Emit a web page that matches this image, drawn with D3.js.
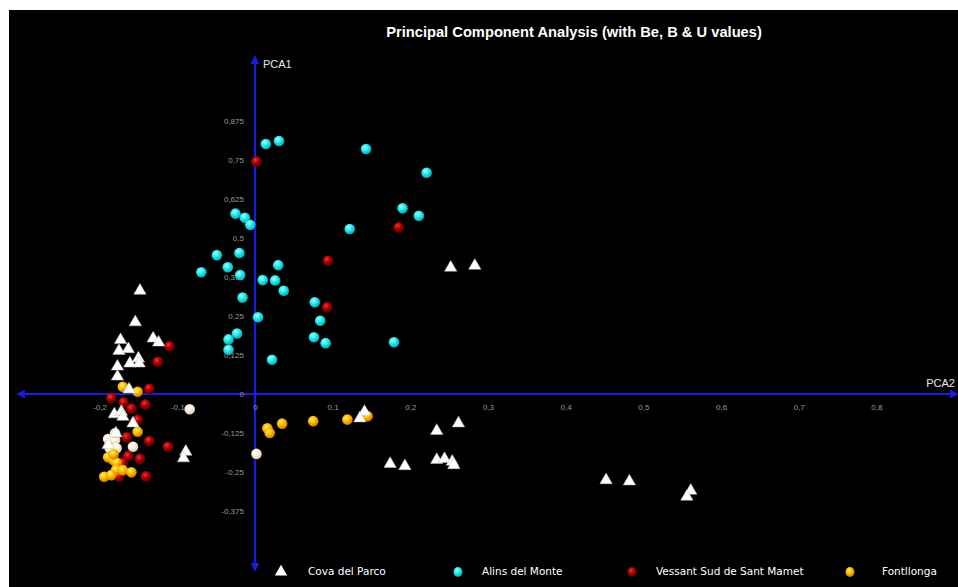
<!DOCTYPE html>
<html>
<head>
<meta charset="utf-8">
<script src="https://cdn.jsdelivr.net/npm/d3@7"></script>
<style>
  html, body { margin: 0; padding: 0; background: #ffffff; }
  svg { display: block; }
</style>
</head>
<body>
<svg id="chart" width="958" height="587"></svg>
<script>
// PCA scores: [PCA2, PCA1] per sample
const covaDelParco = [
  [-0.148, 0.331], [-0.154, 0.230], [-0.173, 0.173], [-0.131, 0.178], [-0.124, 0.165],
  [-0.175, 0.138], [-0.163, 0.144], [-0.150, 0.114], [-0.161, 0.098], [-0.149, 0.098],
  [-0.177, 0.088], [-0.177, 0.056], [-0.162, 0.015], [-0.181, -0.065], [-0.172, -0.057],
  [-0.170, -0.073], [-0.157, -0.094], [-0.179, -0.126], [-0.189, -0.163],
  [-0.089, -0.185], [-0.092, -0.206],
  [0.141, -0.057], [0.135, -0.078], [0.174, -0.224], [0.193, -0.231],
  [0.234, -0.118], [0.262, -0.094], [0.234, -0.211], [0.244, -0.208],
  [0.254, -0.217], [0.256, -0.228],
  [0.452, -0.276], [0.482, -0.280], [0.561, -0.310], [0.556, -0.329],
  [0.252, 0.405], [0.283, 0.411]
];
const alinsDelMonte = [
  [0.014, 0.801], [0.031, 0.811], [0.143, 0.785], [0.221, 0.709], [0.190, 0.595],
  [0.211, 0.571], [0.122, 0.529], [-0.025, 0.578], [-0.013, 0.565], [-0.006, 0.542],
  [-0.049, 0.445], [-0.020, 0.452], [-0.035, 0.406], [-0.069, 0.390], [0.030, 0.413],
  [-0.019, 0.381], [0.010, 0.365], [0.026, 0.364], [0.037, 0.331], [-0.016, 0.309],
  [0.077, 0.294], [0.084, 0.235], [0.004, 0.246], [-0.023, 0.194], [-0.034, 0.175],
  [-0.034, 0.142], [0.076, 0.182], [0.091, 0.163], [0.179, 0.166], [0.022, 0.110]
];
const vessantSudSantMamet = [
  [0.002, 0.745], [0.185, 0.534], [0.094, 0.427], [0.093, 0.278],
  [-0.110, 0.153], [-0.125, 0.103], [-0.136, 0.017], [-0.185, -0.013], [-0.169, -0.027],
  [-0.141, -0.034], [-0.159, -0.047], [-0.151, -0.083], [-0.165, -0.139], [-0.136, -0.151],
  [-0.112, -0.169], [-0.163, -0.199], [-0.148, -0.208], [-0.170, -0.220], [-0.175, -0.265],
  [-0.140, -0.264]
];
const fontllonga = [
  [-0.170, 0.023], [-0.151, 0.007], [-0.151, -0.121], [-0.189, -0.203], [-0.182, -0.212],
  [-0.178, -0.220], [-0.179, -0.244], [-0.170, -0.244], [-0.159, -0.251], [-0.194, -0.265],
  [-0.185, -0.260], [-0.182, -0.193],
  [0.016, -0.110], [0.019, -0.125], [0.035, -0.095], [0.075, -0.087], [0.119, -0.082],
  [0.145, -0.071]
];
const otherSamples = [
  [-0.084, -0.049], [0.002, -0.192],
  [-0.189, -0.144], [-0.180, -0.147], [-0.187, -0.174], [-0.178, -0.174],
  [-0.157, -0.169], [-0.180, -0.126]
];

const xTicks = [-0.2, -0.1, 0, 0.1, 0.2, 0.3, 0.4, 0.5, 0.6, 0.7, 0.8];
const yTicks = [-0.375, -0.25, -0.125, 0, 0.125, 0.25, 0.375, 0.5, 0.625, 0.75, 0.875];
const legendLabels = ["Cova del Parco", "Alins del Monte", "Vessant Sud de Sant Mamet", "Fontllonga"];

const title = "Principal Component Analysis (with Be, B & U values)";

const W = 958, H = 587;
const svg = d3.select("#chart");

const fmt = d3.formatLocale({ decimal: ",", thousands: ".", grouping: [3], currency: ["", ""], minus: "-" }).format("~g");

const x = d3.scaleLinear().domain([-0.305, 0.905]).range([18, 958]);
const y = d3.scaleLinear().domain([-0.564, 1.08]).range([570, 57]);

// sphere gradients
const defs = svg.append("defs");
function sphere(id, light, mid, dark) {
  const g = defs.append("radialGradient").attr("id", id)
    .attr("cx", "40%").attr("cy", "35%").attr("r", "65%");
  g.append("stop").attr("offset", "0%").attr("stop-color", light);
  g.append("stop").attr("offset", "45%").attr("stop-color", mid);
  g.append("stop").attr("offset", "100%").attr("stop-color", dark);
}
sphere("gCyan", "#c8ffff", "#22eef0", "#0aa8b0");
sphere("gRed", "#e04040", "#b00000", "#5a0000");
sphere("gYellow", "#fff080", "#ffc000", "#d07800");
sphere("gCream", "#ffffff", "#fff4e0", "#d8c8a8");

// background panel
svg.append("rect").attr("x", 9).attr("y", 10).attr("width", W - 9).attr("height", H - 10).attr("fill", "#000");

// title
svg.append("text").attr("x", 574).attr("y", 37).attr("text-anchor", "middle")
  .attr("fill", "#ffffff").attr("font-family", "Liberation Sans, Arial, sans-serif")
  .attr("font-size", 14.7).attr("font-weight", "bold").text(title);

// axes lines with arrowheads
const axisColor = "#1a1ae0";
defs.append("marker").attr("id", "arrow").attr("viewBox", "0 0 10 10")
  .attr("refX", 8).attr("refY", 5).attr("markerWidth", 4).attr("markerHeight", 4)
  .attr("orient", "auto-start-reverse")
  .append("path").attr("d", "M0,0 L10,5 L0,10 Z").attr("fill", axisColor);

svg.append("line")
  .attr("x1", x.range()[0]).attr("x2", x.range()[1] - 1)
  .attr("y1", y(0)).attr("y2", y(0))
  .attr("stroke", axisColor).attr("stroke-width", 2.2)
  .attr("marker-start", "url(#arrow)").attr("marker-end", "url(#arrow)");
svg.append("line")
  .attr("x1", x(0)).attr("x2", x(0))
  .attr("y1", y.range()[0]).attr("y2", y.range()[1])
  .attr("stroke", axisColor).attr("stroke-width", 2.2)
  .attr("marker-start", "url(#arrow)").attr("marker-end", "url(#arrow)");

// tick labels via d3 axes (no tick lines / domain)
const tickFont = "Liberation Sans, Arial, sans-serif";
const xAxisG = svg.append("g").attr("transform", `translate(0,${y(0) + 10})`)
  .call(d3.axisBottom(x).tickValues(xTicks).tickFormat(fmt).tickSize(0).tickPadding(0));
xAxisG.select(".domain").remove();
xAxisG.selectAll("text").attr("fill", "#9a9a9a").attr("font-size", 8).attr("font-family", tickFont);

const yAxisG = svg.append("g").attr("transform", `translate(${x(0) - 11},0)`)
  .call(d3.axisLeft(y).tickValues(yTicks).tickFormat(fmt).tickSize(0).tickPadding(0));
yAxisG.select(".domain").remove();
yAxisG.selectAll("text").attr("fill", "#9a9a9a").attr("font-size", 8).attr("font-family", tickFont);

// axis titles
svg.append("text").attr("x", x(0) + 8).attr("y", y.range()[1] + 11)
  .attr("fill", "#e8e8e8").attr("font-size", 11).attr("font-family", tickFont).text("PCA1");
svg.append("text").attr("x", 955).attr("y", y(0) - 7).attr("text-anchor", "end")
  .attr("fill", "#e8e8e8").attr("font-size", 11).attr("font-family", tickFont).text("PCA2");

// marks
const R = 5.3;
const triPath = d3.symbol().type(d3.symbolTriangle).size(66)();

function drawSpheres(data, grad) {
  svg.append("g").selectAll("circle").data(data).join("circle")
    .attr("cx", d => x(d[0])).attr("cy", d => y(d[1])).attr("r", R)
    .attr("fill", `url(#${grad})`);
}
drawSpheres(otherSamples, "gCream");
drawSpheres(vessantSudSantMamet, "gRed");
drawSpheres(fontllonga, "gYellow");
drawSpheres(alinsDelMonte, "gCyan");

svg.append("g").selectAll("path").data(covaDelParco).join("path")
  .attr("d", triPath)
  .attr("transform", d => `translate(${x(d[0])},${y(d[1])})`)
  .attr("fill", "#ffffff").attr("stroke", "#bbbbbb").attr("stroke-width", 0.5);

// legend
const legendFont = "DejaVu Sans, sans-serif";
const legendItems = [
  { label: legendLabels[0], kind: "tri", mx: 281, tx: 308 },
  { label: legendLabels[1], kind: "gCyan", mx: 458, tx: 482 },
  { label: legendLabels[2], kind: "gRed", mx: 632, tx: 656 },
  { label: legendLabels[3], kind: "gYellow", mx: 850, tx: 882 }
];
const ly = 571;
const lg = svg.append("g");
legendItems.forEach(it => {
  if (it.kind === "tri") {
    lg.append("path").attr("d", triPath).attr("transform", `translate(${it.mx},${ly + 1})`).attr("fill", "#fff");
  } else {
    lg.append("ellipse").attr("cx", it.mx).attr("cy", ly + 1).attr("rx", 4.5).attr("ry", 5)
      .attr("fill", `url(#${it.kind})`);
  }
  lg.append("text").attr("x", it.tx).attr("y", ly + 4).attr("fill", "#ffffff")
    .attr("font-size", 10.5).attr("font-family", legendFont)
    .text(it.label);
});
</script>
</body>
</html>
